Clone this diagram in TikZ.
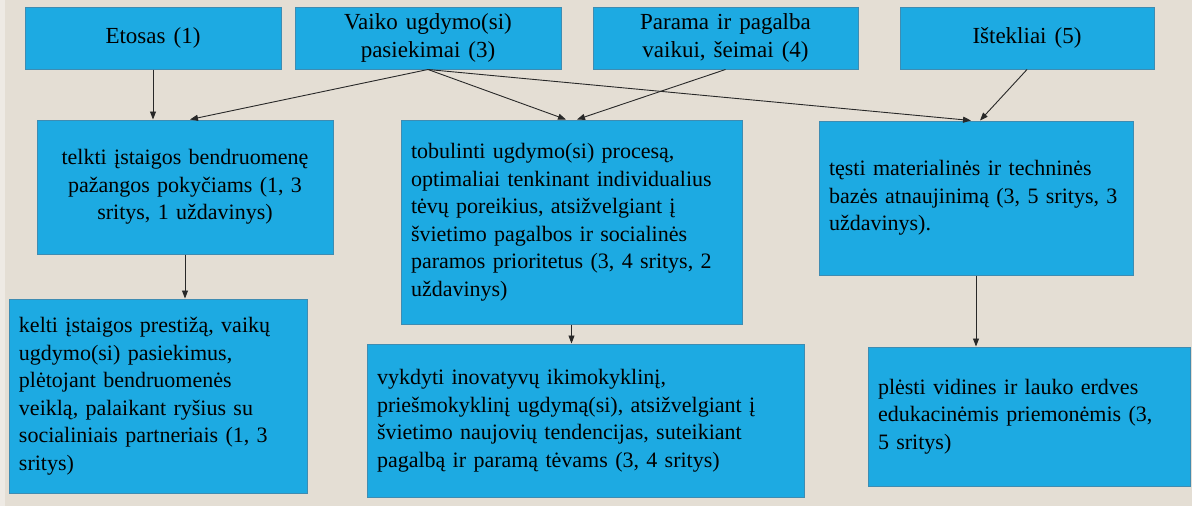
\documentclass[tikz,border=0pt]{standalone}
\usepackage{fontspec}
\setmainfont{Liberation Serif}
\usetikzlibrary{arrows.meta}
\definecolor{bg}{RGB}{228,222,212}
\definecolor{bgl}{RGB}{238,234,228}
\definecolor{boxfill}{RGB}{29,170,226}
\definecolor{boxline}{RGB}{62,140,178}
\definecolor{arr}{RGB}{40,40,40}
\newcommand\mybodyfont{\fontsize{22}{27.5}\selectfont\spaceskip=0.38em plus 0.1em minus 0.05em\relax}
\newcommand\mytopfont{\fontsize{23}{28}\selectfont\spaceskip=0.35em plus 0.1em minus 0.05em\relax}
\begin{document}
\begin{tikzpicture}[x=1pt,y=-1pt,
  box/.style={draw=boxline, fill=boxfill, line width=1pt, inner xsep=10pt, inner ysep=2pt,
    font=\mybodyfont},
  topbox/.style={box, align=center, minimum height=62pt, font=\mytopfont},
  lbox/.style={box, align=left},
  conn/.style={draw=arr, line width=0.9pt, -{Triangle[length=8pt,width=6pt]}}]
\fill[bg] (0,0) rectangle (1192,506);
\fill[bgl] (0,0) rectangle (5,506);
\useasboundingbox (0,0) rectangle (1192,506);
% top row
\node[topbox, minimum width=256pt] (eto) at (153,38) {Etosas (1)};
\node[topbox, minimum width=266pt] (vai) at (428,38) {Vaiko ugdymo(si)\\pasiekimai (3)};
\node[topbox, minimum width=265pt] (par) at (725.5,38) {Parama ir pagalba\\vaikui, šeimai (4)};
\node[topbox, minimum width=254pt] (ist) at (1027,38) {Ištekliai (5)};
% second row
\node[box, align=center, text width=276pt, minimum height=134pt] (tel) at (185,187)
  {telkti įstaigos bendruomenę\\pažangos pokyčiams (1, 3\\sritys, 1 uždavinys)};
\node[lbox, text width=321pt, minimum height=204pt] (tob) at (571.5,222)
  {tobulinti ugdymo(si) procesą,\\optimaliai tenkinant individualius\\tėvų poreikius, atsižvelgiant į\\švietimo pagalbos ir socialinės\\paramos prioritetus (3, 4 sritys, 2\\uždavinys)};
\node[lbox, text width=294pt, minimum height=154pt] (tes) at (976,198)
  {tęsti materialinės ir techninės\\bazės atnaujinimą (3, 5 sritys, 3\\uždavinys).};
% third row
\node[lbox, text width=278pt, minimum height=194pt] (kel) at (158,396)
  {kelti įstaigos prestižą, vaikų\\ugdymo(si) pasiekimus,\\plėtojant bendruomenės\\veiklą, palaikant ryšius su\\socialiniais partneriais (1, 3\\sritys)};
\node[lbox, text width=417pt, minimum height=153pt] (vyk) at (585.5,420.5)
  {vykdyti inovatyvų ikimokyklinį,\\priešmokyklinį ugdymą(si), atsižvelgiant į\\švietimo naujovių tendencijas, suteikiant\\pagalbą ir paramą tėvams (3, 4 sritys)};
\node[lbox, text width=302pt, minimum height=139pt] (ple) at (1029,416.5)
  {plėsti vidines ir lauko erdves\\edukacinėmis priemonėmis (3,\\5 sritys)};
% connectors
\draw[conn] (eto.south) -- (eto.south |- tel.north);
\draw[conn] (vai.south) -- ([xshift=5pt]tel.north);
\draw[conn] (vai.south) -- ([xshift=-5.5pt]tob.north);
\draw[conn] (par.south) -- ([xshift=5.5pt]tob.north);
\draw[conn] (vai.south) -- ([xshift=-5pt]tes.north);
\draw[conn] (ist.south) -- ([xshift=4pt]tes.north);
\draw[conn] (tel.south) -- (tel.south |- kel.north);
\draw[conn] (tob.south) -- (tob.south |- vyk.north);
\draw[conn] (tes.south) -- (tes.south |- ple.north);
\end{tikzpicture}
\end{document}
